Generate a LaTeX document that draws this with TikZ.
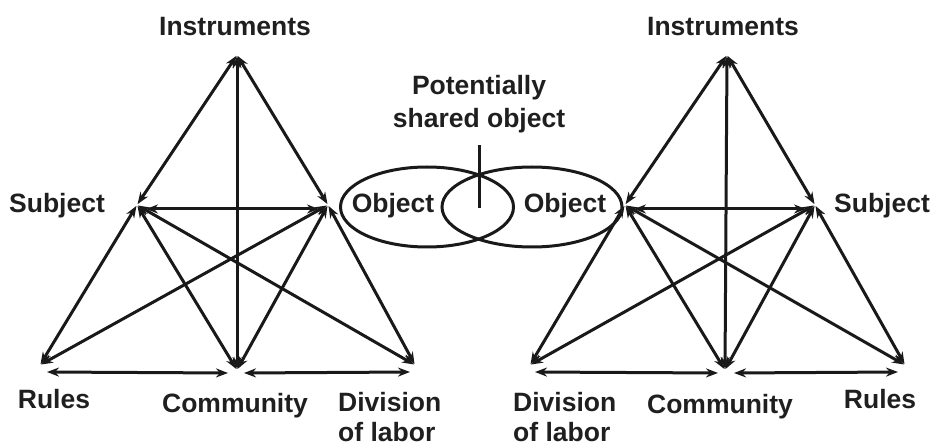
\documentclass[tikz,border=0pt]{standalone}
\usepackage{fontspec}
\setmainfont{Liberation Sans}
\usetikzlibrary{arrows.meta,shapes.geometric,calc}
\begin{document}
\begin{tikzpicture}[x=1pt,y=-1pt,
  lbl/.style={font=\fontsize{26.5}{30}\selectfont\bfseries, inner sep=0pt, text=black!88},
  link/.style={line width=3pt, draw=black!90, {Stealth[length=12pt,width=9pt]}-{Stealth[length=12pt,width=9pt]}, shorten <=1pt, shorten >=1pt},
  oval/.style={ellipse, draw=black!90, line width=3pt, inner sep=0pt}]
\useasboundingbox (0,0) rectangle (934,446);
% left triangle
\coordinate (LI) at (237,55);
\coordinate (LS) at (137,205);
\coordinate (LO) at (328,205);
\coordinate (LR) at (40,365);
\coordinate (LC) at (237,370);
\coordinate (LD) at (415,365);
% right triangle
\coordinate (RI) at (727,55);
\coordinate (RO) at (625,205);
\coordinate (RS) at (815,205);
\coordinate (RD) at (530,365);
\coordinate (RC) at (725,370);
\coordinate (RR) at (905,365);
% edges
\foreach \a/\b in {LI/LS,LI/LO,LI/LC,LS/LR,LS/LC,LS/LD,LO/LR,LO/LC,LO/LD,
                   RI/RO,RI/RS,RI/RC,RO/RD,RO/RC,RO/RR,RS/RD,RS/RC,RS/RR}
  \draw[link] (\a) -- (\b);
% horizontal edges, slightly offset below the vertices
\draw[link] ($(LS)+(8,4)$) -- ($(LO)+(-8,4)$);
\draw[link] ($(LR)+(6,7)$) -- ($(LC)+(-8,3)$);
\draw[link] ($(LC)+(6,3)$) -- ($(LD)+(-4,7)$);
\draw[link] ($(RO)+(8,4)$) -- ($(RS)+(-8,4)$);
\draw[link] ($(RD)+(4,7)$) -- ($(RC)+(-6,3)$);
\draw[link] ($(RC)+(8,3)$) -- ($(RR)+(-6,7)$);
% labels left
\node[lbl, anchor=base] (lins) at (235,36) {Instruments};
\node[lbl, anchor=base] (lsub) at (57,213) {Subject};
\node[lbl, anchor=base] (lrul) at (54,408) {Rules};
\node[lbl, anchor=base] (lcom) at (235,412) {Community};
\node[lbl, anchor=base west, align=left] (ldiv) at (338,441) {Division\\of labor};
% labels right
\node[lbl, anchor=base] (rins) at (723,36) {Instruments};
\node[lbl, anchor=base] (rsub) at (882,213) {Subject};
\node[lbl, anchor=base] (rrul) at (880,408) {Rules};
\node[lbl, anchor=base] (rcom) at (720,413) {Community};
\node[lbl, anchor=base west, align=left] (rdiv) at (513,441) {Division\\of labor};
% central objects
\node[oval, minimum width=173pt, minimum height=80pt] (e1) at (427,207) {};
\node[oval, minimum width=180pt, minimum height=80pt] (e2) at (532,207) {};
\node[lbl, anchor=base] (o1) at (393,213) {Object};
\node[lbl, anchor=base] (o2) at (565,213) {Object};
\node[lbl, anchor=base, align=center, font=\fontsize{26.5}{33}\selectfont\bfseries] (pso) at (479,128) {Potentially\\shared object};
\coordinate (pt) at (479,145);
\coordinate (pb) at (479,208);
\draw[line width=3pt, draw=black!90] (pt) -- (pb);
\end{tikzpicture}
\end{document}
